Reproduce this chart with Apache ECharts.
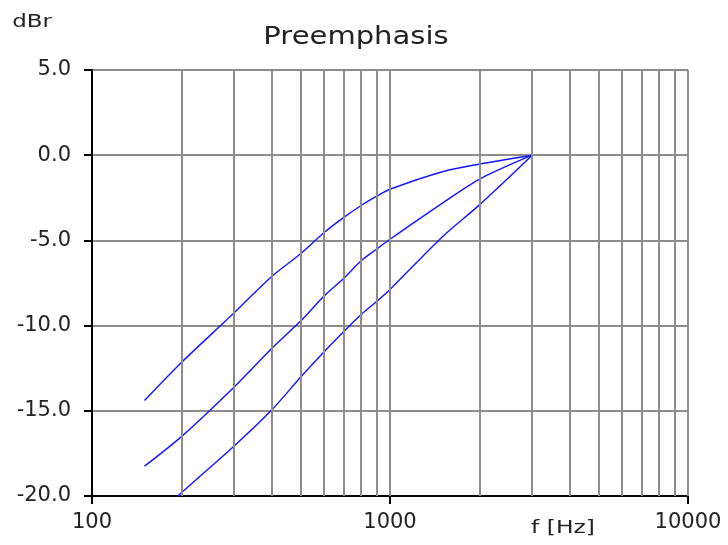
<!DOCTYPE html>
<html>
<head>
<meta charset="utf-8">
<script src="https://cdn.jsdelivr.net/npm/echarts@6/dist/echarts.min.js"></script>
<style>
html,body{margin:0;padding:0;background:#fff;}
#chart{width:728px;height:545px;}
</style>
</head>
<body>
<div id="chart"></div>
<script>
// Frequencies (Hz) at which curves were read
var freqs = [150, 200, 300, 400, 500, 600, 700, 800, 900, 1000, 1500, 2000, 3000];
// Curve values (dBr)
var curveTop = [-14.4, -12.15, -9.25, -7.13, -5.8, -4.55, -3.65, -2.95, -2.42, -2.0, -0.97, -0.52, 0];
var curveMid = [-18.25, -16.5, -13.6, -11.36, -9.75, -8.28, -7.22, -6.2, -5.52, -4.93, -2.81, -1.4, 0];
var curveLow = [-21.9, -19.8, -17.06, -14.97, -13.05, -11.55, -10.35, -9.35, -8.6, -7.88, -4.78, -2.9, 0];
// Vertical grid line frequencies
var gridFreqs = [200, 300, 400, 500, 600, 700, 800, 900, 1000, 2000, 3000, 4000, 5000, 6000, 7000, 8000, 9000, 10000];
// Axis ticks
var xMin = 100, xMax = 10000;
var yMin = -20, yMax = 5, yStep = 5;
var titleText = 'Preemphasis';
var yName = 'dBr';
var xName = 'f [Hz]';

function pairs(ys) { return freqs.map(function (f, i) { return [f, ys[i]]; }); }

var chart = echarts.init(document.getElementById('chart'), null, {renderer: 'canvas'});
var FONT = 'DejaVu Sans';
var blue = '#1414ff';
var curveStyle = {
  type: 'line', showSymbol: false, symbol: 'none', smooth: 0.3, z: 3,
  lineStyle: {color: blue, width: 1.4}, clip: true
};
chart.setOption({
  animation: false,
  backgroundColor: '#ffffff',
  grid: {left: 92, right: 40, top: 70, bottom: 49, containLabel: false},
  xAxis: {
    type: 'log', logBase: 10, min: xMin, max: xMax,
    axisLine: {show: true, onZero: false, lineStyle: {color: '#000', width: 2}},
    axisTick: {show: true, length: 8, lineStyle: {color: '#000', width: 2}},
    splitLine: {show: false},
    axisLabel: {
      show: true, margin: 16, color: '#222', fontFamily: FONT, fontSize: 21,
      formatter: function (v) { return String(Math.round(v)); }
    }
  },
  yAxis: {
    type: 'value', min: yMin, max: yMax, interval: yStep,
    axisLine: {show: true, onZero: false, lineStyle: {color: '#000', width: 2}},
    axisTick: {show: true, length: 8, lineStyle: {color: '#000', width: 2}},
    splitLine: {show: true, lineStyle: {color: '#8c8c8c', width: 2}},
    axisLabel: {
      show: true, margin: 21, color: '#222', fontFamily: FONT, fontSize: 21,
      formatter: function (v) { return v.toFixed(1); }
    }
  },
  series: [
    {
      type: 'line', data: [[xMin, yMin]], showSymbol: false, symbol: 'none',
      lineStyle: {opacity: 0}, z: 1, silent: true,
      markLine: {
        silent: true, symbol: ['none', 'none'], animation: false,
        label: {show: false},
        lineStyle: {color: '#8c8c8c', width: 2, type: 'solid'},
        emphasis: {disabled: true},
        data: gridFreqs.map(function (f) { return {xAxis: f}; })
      }
    },
    Object.assign({name: 'a', data: pairs(curveTop)}, curveStyle),
    Object.assign({name: 'b', data: pairs(curveMid)}, curveStyle),
    Object.assign({name: 'c', data: pairs(curveLow)}, curveStyle)
  ],
  graphic: [
    {type: 'text', x: 356, y: 38, scaleX: 1.21, silent: true,
     style: {text: titleText, x: 0, y: 0, align: 'center', verticalAlign: 'middle',
             textAlign: 'center', textVerticalAlign: 'middle',
             font: '24px "DejaVu Sans"', fill: '#222'}},
    {type: 'text', x: 32, y: 23, scaleX: 1.35, silent: true,
     style: {text: yName, x: 0, y: 0, align: 'center', verticalAlign: 'middle',
             textAlign: 'center', textVerticalAlign: 'middle',
             font: '17px "DejaVu Sans"', fill: '#222'}},
    {type: 'text', x: 563, y: 528, scaleX: 1.3, silent: true,
     style: {text: xName, x: 0, y: 0, align: 'center', verticalAlign: 'middle',
             textAlign: 'center', textVerticalAlign: 'middle',
             font: '18px "DejaVu Sans"', fill: '#222'}}
  ]
});
</script>
</body>
</html>
